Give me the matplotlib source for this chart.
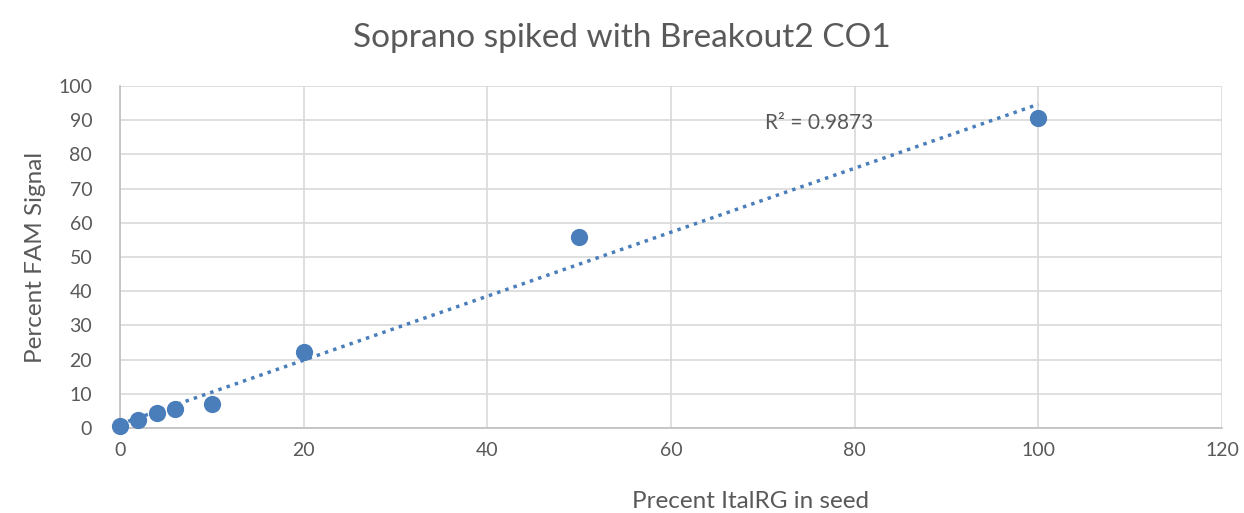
import numpy as np
from matplotlib import pyplot as plt

plt.rcParams["font.family"] = ["Lato", "DejaVu Sans"]

# percent ItalRG in seed vs percent FAM signal
pct_seed = [0, 2, 4, 6, 10, 20, 50, 100]
pct_fam = [0.5, 2.4, 4.5, 5.6, 7.0, 22.1, 55.8, 90.7]
r2_label = "R² = 0.9873"

blue = "#4a7ebb"
grey_text = "#595959"

fig = plt.figure(figsize=(12.44, 5.13), dpi=100)
ax = fig.add_axes([120 / 1244, 1 - 428 / 513, 1102 / 1244, 342 / 513])

# linear trendline
slope, intercept = np.polyfit(pct_seed, pct_fam, 1)
xs = np.array([min(pct_seed), max(pct_seed)])
ax.plot(xs, slope * xs + intercept, ls=(0, (1, 1.5)), lw=2.5, color=blue, zorder=2)

ax.scatter(pct_seed, pct_fam, s=130, color=blue, zorder=3, clip_on=False)

ax.set_xlim(0, 120)
ax.set_ylim(0, 100)
ax.set_xticks(range(0, 121, 20))
ax.set_yticks(range(0, 101, 10))
ax.grid(True, color="#d9d9d9", lw=1.2)
ax.set_axisbelow(True)
for side in ("top", "right"):
    ax.spines[side].set_visible(False)
for side in ("left", "bottom"):
    ax.spines[side].set_color("#bfbfbf")
    ax.spines[side].set_linewidth(1.2)
ax.tick_params(length=0, labelsize=14, colors=grey_text)
ax.tick_params(axis="x", pad=10)
ax.tick_params(axis="y", pad=20)

ax.text(70.2, 89.2, r2_label, fontsize=15, color=grey_text, va="center")

# x title sits right of centre in the original
fig.text(750 / 1244, 1 - 502 / 513, "Precent ItalRG in seed", fontsize=17.5,
         color=grey_text, ha="center", va="center")
ax.set_ylabel("Percent FAM Signal", fontsize=17.5, color=grey_text, labelpad=9)
fig.suptitle("Soprano spiked with Breakout2 CO1", fontsize=24, color=grey_text, y=0.955)

fig.savefig("out.png", dpi=100)
